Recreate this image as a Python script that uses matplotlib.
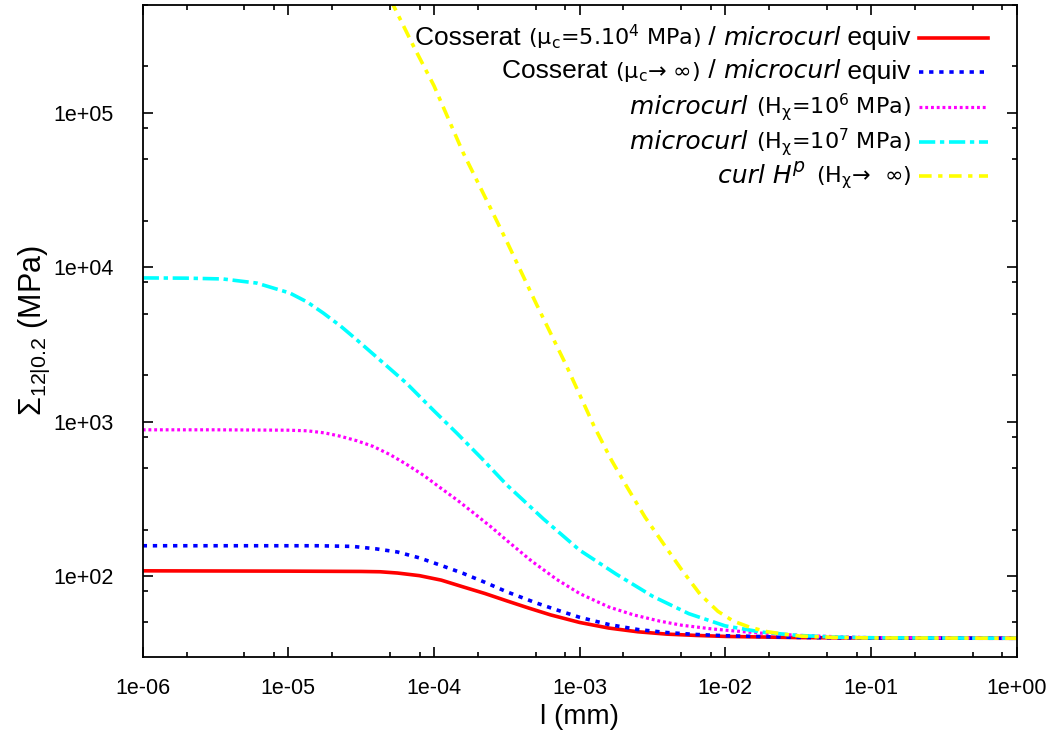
import numpy as np
import matplotlib.pyplot as plt
from matplotlib.ticker import LogLocator, FuncFormatter, NullFormatter
from matplotlib.offsetbox import TextArea, DrawingArea, HPacker, AnchoredOffsetbox
from matplotlib.lines import Line2D

plt.rcParams['font.family'] = ['Liberation Sans', 'DejaVu Sans']
plt.rcParams['mathtext.fontset'] = 'custom'
plt.rcParams['mathtext.rm'] = 'Liberation Sans'
plt.rcParams['mathtext.it'] = 'Liberation Sans:italic'
plt.rcParams['mathtext.bf'] = 'Liberation Sans:bold'

# data: log10(l in mm) and Sigma (MPa)
logl_red = [-6.0, -5.0, -4.5, -4.37, -4.25, -4.1, -3.95, -3.8, -3.65, -3.5, -3.35, -3.2, -3.0,
            -2.8, -2.6, -2.4, -2.2, -2.0, -1.5, -1.0, 0.0]
sig_red = [108, 107.5, 107, 106.5, 104.5, 100.5, 94, 85, 77, 69, 62, 56, 50,
           46, 43.5, 42, 41.2, 40.6, 39.9, 39.6, 39.5]

logl_blue = [-6.0, -4.8, -4.56, -4.4, -4.25, -4.1, -3.95, -3.8, -3.65, -3.5, -3.3, -3.15, -3.0,
             -2.8, -2.6, -2.4, -2.2, -2.0, -1.5, -1.0, 0.0]
sig_blue = [157, 157, 155.5, 150, 143, 131, 117, 104, 91, 79, 67, 60, 54,
            48.5, 45, 43, 41.8, 41, 40, 39.6, 39.5]

logl_mag = [-6.0, -5.5, -5.0, -4.87, -4.75, -4.645, -4.53, -4.416, -4.3, -4.19, -4.07, -3.96, -3.84,
            -3.73, -3.6, -3.5, -3.33, -3.157, -3.0, -2.8, -2.63, -2.45, -2.3, -2.1, -1.99, -1.75,
            -1.485, -1.2, -1.0, 0.0]
sig_mag = [885, 885, 880, 872, 845, 805, 752, 690, 610, 530, 448, 375, 310,
           257, 205, 170, 125, 95, 77, 63, 56, 51, 48, 45.5, 44.5, 42.6,
           41.2, 40.3, 39.9, 39.5]

logl_cyan = [-6.0, -5.7, -5.45, -5.217, -4.99, -4.87, -4.76, -4.64, -4.53, -4.36, -4.19, -4.0, -3.843,
             -3.67, -3.5, -3.25, -3.0, -2.75, -2.5, -2.25, -2.0, -1.75, -1.5, -1.25, -1.0, 0.0]
sig_cyan = [8530, 8500, 8400, 7900, 6810, 5950, 5050, 4150, 3390, 2455, 1778, 1175, 842,
            575, 389, 235, 147, 103, 74, 57, 47.5, 43.3, 41.2, 40.2, 39.8, 39.5]

logl_yel = [-4.4, -4.28, -4.14, -4.0, -3.8, -3.613, -3.5, -3.3, -3.088, -2.9, -2.78, -2.676, -2.55,
            -2.4, -2.3, -2.172, -2.05, -1.944, -1.83, -1.714, -1.6, -1.486, -1.25, -1.0, 0.0]
sig_yel = [9.2e5, 5.0e5, 2.7e5, 1.5e5, 5.53e4, 2.43e4, 1.47e4, 5860, 2276, 931, 560, 379, 240,
           150, 110, 76, 59, 51, 46.5, 43.6, 42, 40.8, 40, 39.7, 39.5]

x_ticks = [1e-6, 1e-5, 1e-4, 1e-3, 1e-2, 1e-1, 1e0]
y_ticks = [1e2, 1e3, 1e4, 1e5]

fig = plt.figure(figsize=(10.58, 7.36), dpi=100)
ax = fig.add_axes([142.7/1058, 1-656.7/736, (1016.5-142.7)/1058, (656.7-5)/736])

ax.plot(10**np.array(logl_red), sig_red, color='#ff0000', lw=2.6, solid_capstyle='butt')
ax.plot(10**np.array(logl_blue), sig_blue, color='#0000ff', lw=2.6, dashes=(1.2, 1.6))
ax.plot(10**np.array(logl_mag), sig_mag, color='#ff00ff', lw=2.3, dashes=(0.9, 0.9))
ax.plot(10**np.array(logl_cyan), sig_cyan, color='#00ffff', lw=2.6, dashes=(4.5, 1.3, 1.2, 1.3))
ax.plot(10**np.array(logl_yel), sig_yel, color='#ffff00', lw=2.6, dashes=(3.5, 1.8, 1.2, 1.8))

ax.set_xscale('log')
ax.set_yscale('log')
ax.set_xlim(1e-6, 1e0)
ax.set_ylim(30, 5e5)
ax.set_xticks(x_ticks)
ax.set_yticks(y_ticks)

for a in (ax.xaxis, ax.yaxis):
    a.set_minor_locator(LogLocator(base=10, subs=[2, 5, 8], numticks=20))
    a.set_minor_formatter(NullFormatter())
    a.set_major_formatter(FuncFormatter(lambda v, p: f"{v:.0e}"))

ax.tick_params(which='both', direction='in', top=True, right=True, width=1.2, labelsize=15.5)
ax.tick_params(which='major', length=7)
ax.tick_params(which='minor', length=3.5)
ax.tick_params(axis='x', pad=15)
ax.tick_params(axis='y', pad=21)
for s in ax.spines.values():
    s.set_linewidth(1.3)

ax.set_xlabel('l (mm)', fontsize=20, labelpad=4)
ax.set_ylabel(r'$\Sigma_{12|0.2}$ (MPa)', fontsize=22, labelpad=1)

norm = dict(fontsize=19)
ital = dict(fontsize=18, style='italic', family='DejaVu Sans')
sm = dict(fontsize=16, family='DejaVu Sans')

rows = [
    ([("Cosserat ", norm), (r"(μ$_\mathregular{c}$=5.10$^\mathregular{4}$ MPa)", sm),
      (" / ", norm), ("microcurl", ital), (" equiv", norm)],
     dict(color='#ff0000', lw=2.6)),
    ([("Cosserat ", norm), (r"(μ$_\mathregular{c}$→ ∞)", sm),
      (" / ", norm), ("microcurl", ital), (" equiv", norm)],
     dict(color='#0000ff', lw=2.6, dashes=(1.2, 1.6))),
    ([("microcurl ", ital), (r"(H$_\mathregular{χ}$=10$^\mathregular{6}$ MPa)", sm)],
     dict(color='#ff00ff', lw=2.3, dashes=(0.9, 0.9))),
    ([("microcurl ", ital), (r"(H$_\mathregular{χ}$=10$^\mathregular{7}$ MPa)", sm)],
     dict(color='#00ffff', lw=2.6, dashes=(4.5, 1.3, 1.2, 1.3))),
    ([("curl H", ital), (r"$^\mathregular{p}$  ", dict(fontsize=19.5, style='italic', family='DejaVu Sans')),
      (r"(H$_\mathregular{χ}$→  ∞)", sm)],
     dict(color='#ffff00', lw=2.6, dashes=(3.5, 1.8, 1.2, 1.8))),
]

row_y = [37, 72, 107, 142, 177]
for (pieces, lstyle), yy in zip(rows, row_y):
    kids = [TextArea(t, textprops=tp) for t, tp in pieces]
    da = DrawingArea(50, 10, 0, 0)
    da.add_artist(Line2D([0, 50], [5, 5], **lstyle))
    kids.append(TextArea("  ", textprops=dict(fontsize=10)))
    kids.append(da)
    hp = HPacker(children=kids, align='baseline', pad=0, sep=0)
    ab = AnchoredOffsetbox(loc='center right', child=hp, pad=0, borderpad=0, frameon=False,
                           bbox_to_anchor=(988/1058, 1-yy/736), bbox_transform=fig.transFigure)
    ax.add_artist(ab)

fig.savefig('out.png', dpi=100)
